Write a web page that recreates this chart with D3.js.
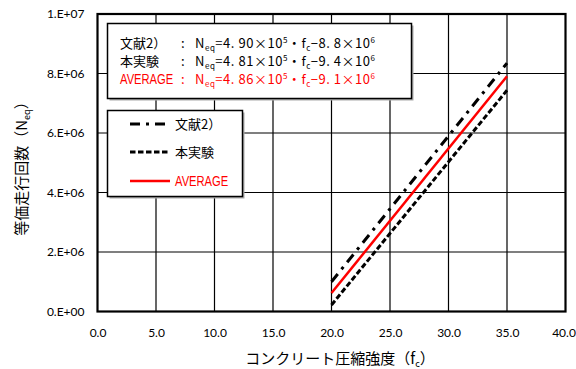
<!DOCTYPE html>
<html>
<head>
<meta charset="utf-8">
<script src="https://cdn.jsdelivr.net/npm/d3@7"></script>
<style>
  html, body { margin: 0; padding: 0; background: #fff; }
  svg { display: block; }
</style>
</head>
<body>
<svg id="chart" width="576" height="369"></svg>
<script>
// Compressive strength (fc) endpoints of each regression line
const fcRange = [20, 35];
// Equivalent passes Neq at fc = 20 and fc = 35
const refValues = [1.0e6, 8.35e6];     // 文献2）
const testValues = [0.22e6, 7.435e6];  // 本実験
const avgValues = [0.62e6, 7.91e6];    // AVERAGE

const xTicks = [0, 5, 10, 15, 20, 25, 30, 35, 40];
const yTicks = [0, 2e6, 4e6, 6e6, 8e6, 1e7];
const yTickLabels = ["0.E+00", "2.E+06", "4.E+06", "6.E+06", "8.E+06", "1.E+07"];

const seriesNames = ["文献2）", "本実験", "AVERAGE"];
const eqCoef = ["4. 90", "4. 81", "4. 86"];
const eqConst = ["8. 8", "9. 4", "9. 1"];

const series = [
  { name: seriesNames[0], values: refValues, color: "#000", width: 3, dash: "10,6,3,6" },
  { name: seriesNames[1], values: testValues, color: "#000", width: 3, dash: "5.5,2.5" },
  { name: seriesNames[2], values: avgValues, color: "#ff0000", width: 2.5, dash: null }
];

const svg = d3.select("#chart");
const margin = { left: 97.5, right: 565.5, top: 14, bottom: 311.5 };

const x = d3.scaleLinear().domain([0, 40]).range([margin.left, margin.right]);
const y = d3.scaleLinear().domain([0, 1e7]).range([margin.bottom, margin.top]);

const tickFont = "Lato, Carlito, 'Noto Sans', sans-serif";
const jpFont = "'Noto Sans CJK JP', sans-serif";

// Grid
const grid = svg.append("g");
grid.selectAll("line.v").data(xTicks.slice(1, -1)).join("line")
  .attr("x1", d => x(d)).attr("x2", d => x(d))
  .attr("y1", margin.top).attr("y2", margin.bottom)
  .attr("stroke", "#000").attr("stroke-width", 1.2);
grid.selectAll("line.h").data(yTicks.slice(1, -1)).join("line")
  .attr("x1", margin.left).attr("x2", margin.right)
  .attr("y1", d => y(d)).attr("y2", d => y(d))
  .attr("stroke", "#000").attr("stroke-width", 1.2);

// Plot frame
svg.append("rect")
  .attr("x", margin.left).attr("y", margin.top)
  .attr("width", margin.right - margin.left).attr("height", margin.bottom - margin.top)
  .attr("fill", "none").attr("stroke", "#000").attr("stroke-width", 2.2);

// Axes
const xAxis = d3.axisBottom(x).tickValues(xTicks).tickSize(0).tickPadding(17)
  .tickFormat(d3.format(".1f"));
const gx = svg.append("g").attr("transform", `translate(0,${margin.bottom})`).call(xAxis);
gx.select(".domain").remove();
gx.selectAll("text").attr("font-family", tickFont).attr("font-size", 12).attr("fill", "#000")
  .attr("dx", d => d === 40 ? -2 : 0);

const yAxis = d3.axisLeft(y).tickValues(yTicks).tickSize(0).tickPadding(13)
  .tickFormat((d, i) => yTickLabels[i]);
const gy = svg.append("g").attr("transform", `translate(${margin.left},0)`).call(yAxis);
gy.select(".domain").remove();
gy.selectAll("text").attr("font-family", tickFont).attr("font-size", 12).attr("fill", "#000");

// Axis titles
const xt = svg.append("text")
  .attr("x", 340).attr("y", 364)
  .attr("text-anchor", "middle")
  .attr("font-family", jpFont).attr("font-size", 15).attr("fill", "#000");
xt.append("tspan").text("コンクリート圧縮強度（f");
xt.append("tspan").attr("font-size", 9).attr("dy", 3).text("c");
xt.append("tspan").attr("dy", -3).text("）");

const yt = svg.append("text")
  .attr("transform", "translate(27,165) rotate(-90)")
  .attr("text-anchor", "middle")
  .attr("font-family", jpFont).attr("font-size", 15).attr("fill", "#000");
yt.append("tspan").text("等価走行回数（N");
yt.append("tspan").attr("font-size", 9).attr("dy", 3).text("eq");
yt.append("tspan").attr("dy", -3).text("）");

// Regression lines
const line = d3.line().x((d, i) => x(fcRange[i])).y(d => y(d));
svg.append("g").selectAll("path").data(series).join("path")
  .attr("d", d => line(d.values))
  .attr("fill", "none")
  .attr("stroke", d => d.color)
  .attr("stroke-width", d => d.width)
  .attr("stroke-dasharray", d => d.dash);

// Boxes with a soft drop shadow
function shadowBox(x0, y0, w, h) {
  svg.append("rect").attr("x", x0 + 2).attr("y", y0 + 2).attr("width", w).attr("height", h)
    .attr("fill", "#aaa");
  svg.append("rect").attr("x", x0).attr("y", y0).attr("width", w).attr("height", h)
    .attr("fill", "#fff").attr("stroke", "#000").attr("stroke-width", 1.5);
}

// Series label: AVERAGE is drawn in a horizontally condensed face
function seriesLabel(sel, s, i, xPos, yPos) {
  if (i === 2) {
    return sel.append("text")
      .attr("transform", `translate(${xPos},${yPos}) scale(0.8,1)`)
      .attr("font-family", "'Liberation Sans', sans-serif").attr("font-size", 14)
      .attr("fill", s.color).text(s.name);
  }
  return sel.append("text").attr("x", xPos).attr("y", yPos)
    .attr("font-family", jpFont).attr("font-size", 13).attr("fill", s.color).text(s.name);
}

// Equation box
shadowBox(107.5, 23.5, 304, 75);
const eqRows = [48, 66, 84];
series.forEach((s, i) => {
  const g = svg.append("g").attr("font-family", jpFont).attr("font-size", 13).attr("fill", s.color);
  seriesLabel(g, s, i, 120, eqRows[i]);
  g.append("text").attr("x", 181).attr("y", eqRows[i]).text(":");
  const t = g.append("text").attr("x", 195).attr("y", eqRows[i])
    .attr("textLength", 180).attr("lengthAdjust", "spacing");
  t.append("tspan").text("N");
  t.append("tspan").attr("font-size", 8).attr("dy", 3).text("eq");
  t.append("tspan").attr("dy", -3).text("=" + eqCoef[i] + "×10");
  t.append("tspan").attr("font-size", 8).attr("dy", -5).text("5");
  t.append("tspan").attr("dy", 5).text("・f");
  t.append("tspan").attr("font-size", 8).attr("dy", 3).text("c");
  t.append("tspan").attr("dy", -3).text("−" + eqConst[i] + "×10");
  t.append("tspan").attr("font-size", 8).attr("dy", -5).text("6");
});

// Legend
shadowBox(107.5, 110.5, 135, 86);
const legRows = [124, 152, 181];
series.forEach((s, i) => {
  svg.append("line")
    .attr("x1", 130).attr("x2", 170).attr("y1", legRows[i]).attr("y2", legRows[i])
    .attr("stroke", s.color).attr("stroke-width", s.width)
    .attr("stroke-dasharray", s.dash);
  seriesLabel(svg, s, i, 175, legRows[i] + 5);
});
</script>
</body>
</html>
